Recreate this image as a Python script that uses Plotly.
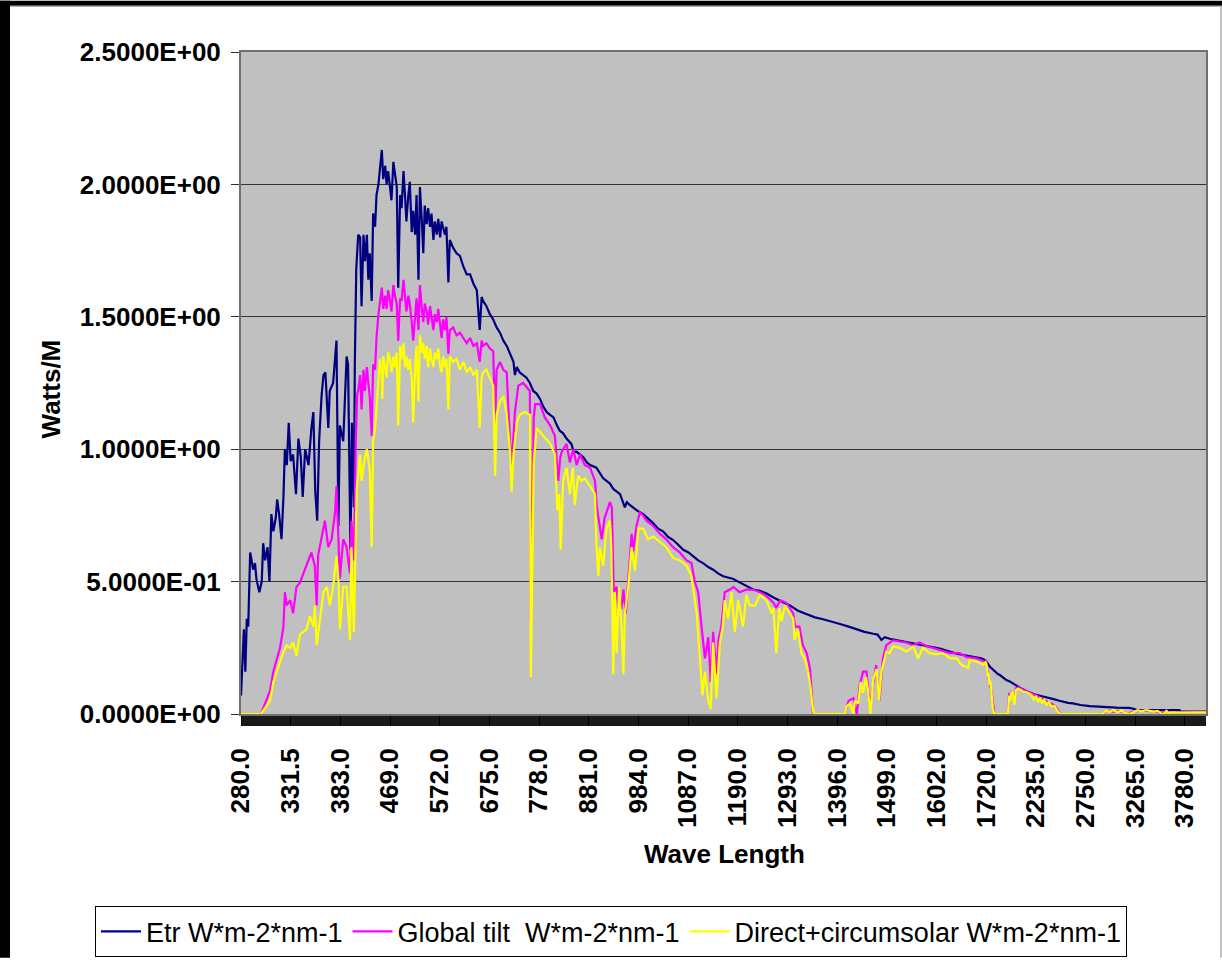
import numpy as np
import plotly.graph_objects as go

# Category axis: ASTM G173 wavelength grid (nm)
WAVELENGTHS = np.concatenate([
    np.arange(280.0, 400.0, 0.5),
    np.arange(400.0, 1700.0, 1.0),
    [1700.0, 1702.0],
    np.arange(1705.0, 4000.1, 5.0),
])

X_TICK_LABELS = ["280.0", "331.5", "383.0", "469.0", "572.0", "675.0", "778.0", "881.0",
                 "984.0", "1087.0", "1190.0", "1293.0", "1396.0", "1499.0", "1602.0",
                 "1720.0", "2235.0", "2750.0", "3265.0", "3780.0"]
Y_TICK_VALUES = [0.0, 0.5, 1.0, 1.5, 2.0, 2.5]
Y_TICK_LABELS = ["0.0000E+00", "5.0000E-01", "1.0000E+00", "1.5000E+00", "2.0000E+00", "2.5000E+00"]

SERIES_NAMES = ["Etr W*m-2*nm-1", "Global tilt\u00a0 W*m-2*nm-1", "Direct+circumsolar W*m-2*nm-1"]
SERIES_COLORS = ["#000080", "#FF00FF", "#FFFF00"]

# (wavelength nm, W*m-2*nm-1)
ETR_DATA = [
    (280, 0.07), (281.5, 0.22), (283, 0.32), (284.5, 0.16), (286, 0.36), (287.5, 0.33), (289.5, 0.61),
    (291, 0.58), (292.5, 0.545), (294.5, 0.57), (296, 0.51), (299, 0.46), (301.5, 0.5), (303, 0.645),
    (305, 0.58), (307.5, 0.63), (309.5, 0.5), (311.5, 0.755), (313.5, 0.69), (316, 0.74), (317.5, 0.81),
    (319.5, 0.755), (322, 0.66), (324, 0.82), (325.5, 1.0), (327.5, 0.94), (329.5, 1.1), (331.5, 0.955),
    (334, 0.98), (337, 0.83), (339.5, 1.04), (342, 0.97), (344, 0.82), (346.5, 1.0), (350, 0.94),
    (353, 1.08), (355, 1.14), (357, 0.84), (359, 0.73), (361, 1.03), (363.5, 1.2), (365.5, 1.28),
    (367.5, 1.29), (370.5, 1.08), (372, 1.22), (375.5, 1.25), (379, 1.41), (381, 0.71), (382.5, 1.09),
    (386, 1.03), (389.5, 1.35), (391, 1.32), (393.5, 0.62), (395, 1.1), (397, 0.78), (398, 1.32),
    (399.5, 1.68),
    (403, 1.81), (407, 1.80), (410, 1.54), (414, 1.81), (417, 1.71), (421, 1.81), (424, 1.64),
    (427, 1.74), (431, 1.56), (434, 1.89), (438, 1.84), (441, 1.96), (445, 2.0), (448, 2.07),
    (452, 2.13), (455, 2.02), (459, 2.07), (462, 2.0), (465, 2.05), (469, 1.99), (472, 1.94),
    (476, 2.085), (479, 2.05), (483, 1.99), (486, 1.61), (490, 1.96), (493, 1.91), (497, 2.05),
    (500, 1.96), (503, 1.86), (507, 1.96), (510, 2.01), (514, 1.82), (517, 1.9), (521, 1.81),
    (524, 1.96), (528, 1.64), (531, 1.99), (535, 1.86), (538, 1.74), (541, 1.92), (545, 1.85),
    (548, 1.91), (552, 1.84), (555, 1.89), (559, 1.79), (562, 1.86), (566, 1.81), (569, 1.87),
    (573, 1.80), (576, 1.86), (579, 1.84), (583, 1.81), (586, 1.84), (590, 1.63), (593, 1.79),
    (600, 1.76), (607, 1.74), (614, 1.73), (621, 1.69), (628, 1.66), (635, 1.66), (642, 1.625),
    (649, 1.60), (655, 1.45), (659, 1.575), (662, 1.56), (669, 1.54), (676, 1.51), (683, 1.49),
    (690, 1.46), (697, 1.44), (704, 1.41), (711, 1.39), (718, 1.36), (725, 1.33), (728, 1.28),
    (732, 1.31), (738, 1.29), (745, 1.28), (752, 1.27), (759, 1.25), (766, 1.22), (773, 1.21),
    (780, 1.19), (787, 1.16), (794, 1.14), (801, 1.13), (808, 1.12), (815, 1.09), (821, 1.07),
    (828, 1.06), (835, 1.04), (845, 1.02), (850, 0.99), (856, 0.99), (863, 0.98), (870, 0.97),
    (877, 0.95), (884, 0.94), (897, 0.93), (904, 0.91), (911, 0.89), (918, 0.88), (925, 0.87),
    (932, 0.85), (939, 0.84), (946, 0.83), (956, 0.78), (960, 0.80), (966, 0.79), (973, 0.78),
    (980, 0.77), (994, 0.755), (1004, 0.74), (1015, 0.72), (1025, 0.70), (1035, 0.69), (1045, 0.67),
    (1056, 0.657), (1066, 0.64), (1077, 0.62), (1088, 0.61), (1098, 0.595), (1108, 0.58), (1118, 0.57),
    (1129, 0.555), (1139, 0.545), (1150, 0.53), (1160, 0.52), (1170, 0.515), (1181, 0.51), (1191, 0.50),
    (1201, 0.49), (1212, 0.48), (1222, 0.47), (1236, 0.465), (1250, 0.455), (1264, 0.44), (1281, 0.425),
    (1298, 0.41), (1315, 0.39), (1333, 0.377), (1350, 0.365), (1367, 0.358), (1385, 0.35), (1402, 0.34),
    (1420, 0.33), (1436, 0.32), (1453, 0.31), (1471, 0.303), (1480, 0.30), (1488, 0.28), (1495, 0.29),
    (1505, 0.284), (1522, 0.278), (1540, 0.272), (1557, 0.265), (1574, 0.26), (1591, 0.253),
    (1609, 0.247), (1626, 0.238), (1644, 0.228), (1661, 0.222), (1678, 0.216), (1695, 0.21),
    (1702, 0.205),
    (1725, 0.197), (1760, 0.178), (1795, 0.165), (1830, 0.156), (1845, 0.15), (1860, 0.148),
    (1880, 0.142), (1900, 0.135), (1930, 0.128), (1965, 0.123), (2000, 0.115), (2040, 0.105),
    (2090, 0.095), (2140, 0.086), (2190, 0.078), (2240, 0.072), (2290, 0.068), (2340, 0.064),
    (2380, 0.061), (2430, 0.055), (2480, 0.05), (2530, 0.045), (2570, 0.042), (2620, 0.04),
    (2700, 0.034), (2795, 0.030), (2900, 0.027), (3000, 0.025), (3070, 0.024), (3200, 0.023),
    (3250, 0.02), (3280, 0.015), (3500, 0.015), (3725, 0.015), (3735, 0.01), (3850, 0.01), (4000, 0.009),
]

GLOBAL_DATA = [
    (280, 0.0), (300, 0.0), (301.5, 0.008), (306.5, 0.05), (310, 0.086), (313.5, 0.16), (317, 0.21),
    (320.5, 0.25), (324, 0.33), (325.5, 0.46), (327.5, 0.41), (331, 0.43), (334, 0.38), (337.5, 0.48),
    (341, 0.495), (344.5, 0.53), (349.5, 0.58), (353, 0.61), (356.5, 0.56), (358.5, 0.41), (360, 0.6),
    (363.5, 0.66), (367, 0.73), (370.5, 0.63), (374, 0.66), (377.5, 0.76), (379, 0.86), (382.5, 0.51),
    (386, 0.66), (389.5, 0.63), (393, 0.53), (394.5, 0.73), (397, 0.58), (399, 1.03),
    (401, 1.21), (403, 1.22), (407, 1.28), (410, 1.15), (414, 1.30), (417, 1.22), (421, 1.31),
    (424, 1.25), (427, 1.20), (431, 1.05), (434, 1.32), (438, 1.30), (441, 1.42), (445, 1.51),
    (448, 1.56), (452, 1.61), (455, 1.53), (459, 1.58), (462, 1.53), (465, 1.60), (469, 1.56),
    (472, 1.52), (476, 1.62), (479, 1.58), (483, 1.55), (486, 1.41), (490, 1.57), (493, 1.56),
    (497, 1.64), (500, 1.56), (503, 1.52), (507, 1.58), (510, 1.55), (514, 1.48), (517, 1.41),
    (521, 1.50), (524, 1.57), (528, 1.45), (531, 1.62), (535, 1.53), (538, 1.48), (541, 1.55),
    (545, 1.52), (548, 1.47), (552, 1.54), (555, 1.50), (559, 1.45), (562, 1.51), (566, 1.48),
    (569, 1.53), (573, 1.47), (576, 1.42), (579, 1.49), (583, 1.45), (586, 1.50), (590, 1.36),
    (593, 1.45), (600, 1.46), (607, 1.43), (614, 1.44), (621, 1.42), (628, 1.40), (635, 1.42),
    (642, 1.39), (649, 1.40), (655, 1.33), (659, 1.41), (662, 1.39), (669, 1.40), (676, 1.38),
    (683, 1.37), (687, 1.10), (690, 1.30), (697, 1.33), (704, 1.30), (711, 1.29), (718, 1.02),
    (721, 0.94), (725, 1.05), (728, 1.14), (735, 1.24), (745, 1.25), (759, 1.22), (761, 0.35),
    (764, 0.75), (767, 1.12), (770, 1.17), (780, 1.17), (790, 1.12), (801, 1.09), (811, 1.05),
    (816, 0.90), (818, 0.88), (822, 0.97), (825, 0.99), (835, 1.02), (842, 0.95), (849, 1.0),
    (856, 0.94), (863, 0.98), (873, 0.94), (884, 0.93), (894, 0.88), (898, 0.78), (904, 0.71),
    (908, 0.66), (914, 0.74), (925, 0.80), (929, 0.78), (933, 0.46), (939, 0.48), (942, 0.40),
    (949, 0.40), (953, 0.47), (958, 0.38), (963, 0.51), (970, 0.68), (973, 0.61), (980, 0.71),
    (987, 0.76), (994, 0.75), (1001, 0.73), (1015, 0.71), (1029, 0.68), (1042, 0.66), (1056, 0.63),
    (1070, 0.61), (1084, 0.58), (1094, 0.57), (1101, 0.50), (1108, 0.46), (1115, 0.33), (1122, 0.21),
    (1129, 0.29), (1134, 0.12), (1139, 0.31), (1146, 0.15), (1150, 0.28), (1156, 0.33), (1163, 0.46),
    (1174, 0.47), (1181, 0.48), (1194, 0.46), (1208, 0.47), (1222, 0.47), (1236, 0.46), (1250, 0.445),
    (1264, 0.42), (1270, 0.40), (1278, 0.43), (1291, 0.42), (1305, 0.38), (1309, 0.33), (1318, 0.33),
    (1325, 0.26), (1333, 0.23), (1340, 0.17), (1346, 0.005), (1350, 0.0), (1412, 0.0), (1420, 0.05),
    (1430, 0.06), (1437, 0.0), (1443, 0.11), (1450, 0.16), (1457, 0.16), (1464, 0.03), (1470, 0.1),
    (1477, 0.185), (1484, 0.05), (1491, 0.21), (1498, 0.26), (1512, 0.278), (1532, 0.272), (1540, 0.27),
    (1553, 0.26), (1567, 0.27), (1580, 0.258), (1595, 0.25), (1615, 0.24), (1630, 0.23), (1650, 0.23),
    (1665, 0.215), (1685, 0.21), (1700, 0.202),
    (1705, 0.198), (1725, 0.195), (1740, 0.15), (1755, 0.115), (1775, 0.09), (1790, 0.03), (1805, 0.0),
    (1945, 0.0), (1950, 0.03), (1960, 0.08), (1970, 0.07), (1985, 0.085), (2000, 0.075), (2015, 0.045),
    (2030, 0.098), (2050, 0.10), (2085, 0.095), (2100, 0.092), (2140, 0.086), (2190, 0.078),
    (2240, 0.07), (2295, 0.058), (2345, 0.048), (2380, 0.043), (2415, 0.035), (2450, 0.024),
    (2470, 0.012), (2485, 0.002), (2490, 0.0), (2930, 0.0), (2935, 0.005), (2960, 0.01), (3000, 0.012),
    (3050, 0.008), (3100, 0.012), (3150, 0.006), (3200, 0.002), (3250, 0.01), (3300, 0.012),
    (3350, 0.013), (3400, 0.012), (3450, 0.01), (3500, 0.008), (3540, 0.0), (3590, 0.012),
    (3620, 0.005), (3700, 0.006), (3800, 0.007), (3900, 0.007), (4000, 0.007),
]

DIRECT_DATA = [
    (280, 0.0), (300, 0.0), (301.5, 0.004), (306.5, 0.03), (310, 0.05), (313.5, 0.12), (317, 0.16),
    (320.5, 0.20), (324, 0.235), (327.5, 0.26), (331, 0.25), (334, 0.27), (337.5, 0.22), (341, 0.30),
    (344.5, 0.31), (348, 0.32), (351.5, 0.37), (355, 0.33), (356.5, 0.41), (358.5, 0.26), (362, 0.36),
    (365.5, 0.46), (369, 0.48), (372, 0.41), (375.5, 0.48), (379, 0.595), (381, 0.51), (382.5, 0.32),
    (386, 0.48), (389.5, 0.48), (393, 0.28), (394.5, 0.63), (397, 0.31), (399, 0.78),
    (400, 0.855), (403, 0.9), (407, 0.98), (410, 0.88), (414, 0.93), (417, 0.97), (421, 1.0),
    (424, 0.95), (427, 0.92), (431, 0.63), (434, 1.03), (438, 1.08), (441, 1.15), (445, 1.27),
    (448, 1.34), (452, 1.28), (453, 1.19), (455, 1.35), (459, 1.31), (462, 1.27), (465, 1.365),
    (469, 1.34), (472, 1.29), (476, 1.35), (479, 1.31), (483, 1.365), (486, 1.09), (490, 1.39),
    (493, 1.34), (497, 1.40), (500, 1.31), (503, 1.35), (507, 1.30), (510, 1.34), (514, 1.27),
    (517, 1.10), (521, 1.31), (524, 1.39), (528, 1.18), (531, 1.43), (535, 1.365), (538, 1.40),
    (541, 1.34), (545, 1.39), (548, 1.31), (552, 1.38), (555, 1.34), (559, 1.31), (562, 1.365),
    (566, 1.34), (569, 1.38), (573, 1.31), (576, 1.29), (579, 1.35), (583, 1.31), (586, 1.34),
    (590, 1.15), (593, 1.35), (600, 1.33), (607, 1.34), (614, 1.30), (621, 1.33), (628, 1.29),
    (635, 1.31), (642, 1.28), (649, 1.30), (655, 1.08), (659, 1.27), (662, 1.29), (669, 1.30),
    (676, 1.27), (683, 1.24), (687, 0.90), (690, 1.13), (697, 1.18), (704, 1.2), (711, 1.13),
    (718, 0.99), (721, 0.84), (725, 0.98), (732, 1.1), (738, 1.13), (749, 1.14), (759, 1.13),
    (761, 0.14), (764, 0.58), (767, 0.95), (773, 1.08), (787, 1.05), (801, 1.02), (811, 0.98),
    (816, 0.77), (820, 0.83), (823, 0.62), (828, 0.88), (835, 0.93), (842, 0.83), (848, 0.93),
    (852, 0.79), (859, 0.90), (866, 0.88), (873, 0.89), (884, 0.86), (894, 0.83), (897, 0.64),
    (901, 0.52), (904, 0.63), (911, 0.56), (918, 0.70), (925, 0.73), (928, 0.63), (932, 0.15),
    (935, 0.46), (939, 0.23), (944, 0.48), (949, 0.33), (953, 0.15), (956, 0.38), (963, 0.48),
    (970, 0.63), (977, 0.54), (984, 0.70), (994, 0.70), (1004, 0.66), (1015, 0.67), (1029, 0.65),
    (1042, 0.63), (1056, 0.59), (1070, 0.58), (1084, 0.56), (1094, 0.52), (1105, 0.38), (1112, 0.21),
    (1117, 0.07), (1122, 0.16), (1129, 0.05), (1134, 0.02), (1139, 0.27), (1146, 0.06), (1153, 0.27),
    (1159, 0.33), (1163, 0.43), (1170, 0.36), (1177, 0.46), (1184, 0.31), (1191, 0.43), (1201, 0.33),
    (1208, 0.45), (1215, 0.41), (1226, 0.41), (1236, 0.45), (1250, 0.43), (1260, 0.38), (1264, 0.40),
    (1270, 0.23), (1276, 0.40), (1281, 0.35), (1288, 0.41), (1298, 0.38), (1305, 0.36), (1308, 0.28),
    (1315, 0.32), (1322, 0.23), (1329, 0.21), (1336, 0.16), (1341, 0.10), (1345, 0.03), (1348, 0.0),
    (1412, 0.0), (1416, 0.03), (1423, 0.04), (1430, 0.0), (1433, 0.05), (1440, 0.04), (1445, 0.12),
    (1450, 0.08), (1456, 0.14), (1460, 0.09), (1465, 0.0), (1471, 0.13), (1478, 0.17), (1483, 0.05),
    (1488, 0.16), (1493, 0.2), (1498, 0.235), (1505, 0.23), (1512, 0.255), (1526, 0.25), (1540, 0.235),
    (1554, 0.255), (1564, 0.21), (1574, 0.25), (1588, 0.23), (1602, 0.225), (1616, 0.23), (1630, 0.21),
    (1644, 0.21), (1654, 0.186), (1668, 0.174), (1671, 0.205), (1685, 0.198), (1699, 0.186),
    (1705, 0.19), (1715, 0.195), (1725, 0.185), (1740, 0.14), (1745, 0.155), (1755, 0.11),
    (1765, 0.125), (1775, 0.08), (1790, 0.02), (1805, 0.0), (1945, 0.0), (1950, 0.02), (1960, 0.07),
    (1970, 0.05), (1980, 0.08), (1995, 0.082), (2015, 0.035), (2030, 0.09), (2050, 0.095),
    (2085, 0.09), (2100, 0.085), (2140, 0.082), (2190, 0.072), (2215, 0.055), (2240, 0.068),
    (2260, 0.045), (2280, 0.062), (2300, 0.04), (2320, 0.055), (2345, 0.035), (2370, 0.045),
    (2400, 0.028), (2430, 0.03), (2460, 0.012), (2485, 0.0), (2930, 0.0), (2935, 0.004), (2960, 0.012),
    (3000, 0.008), (3040, 0.015), (3080, 0.006), (3120, 0.013), (3160, 0.004), (3210, 0.0),
    (3250, 0.008), (3290, 0.014), (3330, 0.01), (3380, 0.015), (3420, 0.012), (3460, 0.009),
    (3500, 0.012), (3540, 0.0), (3560, 0.0), (3590, 0.012), (3610, 0.004), (3650, 0.006),
    (3700, 0.005), (3800, 0.006), (3900, 0.006), (4000, 0.006),
]


def category_index(wl):
    return int(np.argmin(np.abs(WAVELENGTHS - float(wl))))


FONT = "Liberation Sans, Arial, sans-serif"
W, H = 1222, 970
L, R, T, B = 241, 16, 52, 247
PW, PH = W - L - R, H - T - B


def px(xp):
    return (xp - L) / PW


def py(yp):
    return (H - B - yp) / PH


fig = go.Figure()
for name, color, data in zip(SERIES_NAMES, SERIES_COLORS, [ETR_DATA, GLOBAL_DATA, DIRECT_DATA]):
    fig.add_trace(go.Scatter(
        x=[category_index(w) for w, _ in data],
        y=[v for _, v in data],
        mode="lines",
        name=name,
        line=dict(color=color, width=2.2),
    ))

tick_positions = [category_index(float(t)) for t in X_TICK_LABELS]

fig.update_layout(
    width=W, height=H, autosize=False,
    margin=dict(l=L, r=R, t=T, b=B, pad=0),
    paper_bgcolor="white",
    plot_bgcolor="#C0C0C0",
    font=dict(family=FONT, color="black"),
    showlegend=True,
    legend=dict(
        orientation="h", x=px(95), y=py(918), xanchor="left", yanchor="top",
        bgcolor="white", bordercolor="black", borderwidth=1,
        font=dict(family=FONT, size=27, color="black"),
        itemwidth=40,
    ),
    xaxis=dict(
        range=[0, len(WAVELENGTHS) - 1],
        tickmode="array", tickvals=tick_positions, ticktext=X_TICK_LABELS,
        tickangle=-90,
        tickfont=dict(family=FONT, size=26, color="black", weight="bold"),
        ticks="outside", ticklen=10, tickcolor="black", tickwidth=1,
        ticklabelstandoff=12,
        showgrid=False, zeroline=False,
        showline=True, linecolor="#707070", linewidth=2, mirror=True,
        minor=dict(tickmode="linear", tick0=0, dtick=2.05, ticks="outside", ticklen=10,
                   tickcolor="#1a1a1a", tickwidth=1, showgrid=False),
    ),
    yaxis=dict(
        range=[0, 2.5],
        tickmode="array", tickvals=Y_TICK_VALUES, ticktext=Y_TICK_LABELS,
        tickfont=dict(family=FONT, size=26, color="black", weight="bold"),
        ticks="outside", ticklen=8, tickcolor="#333333", tickwidth=1,
        ticklabelstandoff=5,
        showgrid=True, gridcolor="#333333", gridwidth=1,
        zeroline=False,
        showline=True, linecolor="#707070", linewidth=2, mirror=True,
    ),
    annotations=[
        dict(text="Wave Length", xref="paper", yref="paper", x=px(724), y=py(865),
             xanchor="center", yanchor="middle", showarrow=False,
             font=dict(family=FONT, size=26, color="black", weight="bold")),
        dict(text="Watts/M", xref="paper", yref="paper", x=px(51), y=py(394),
             xanchor="center", yanchor="middle", showarrow=False, textangle=-90,
             font=dict(family=FONT, size=26, color="black", weight="bold")),
    ],
    shapes=[
        dict(type="rect", xref="paper", yref="paper", x0=px(0), x1=px(10), y0=py(H), y1=py(0),
             fillcolor="black", line=dict(width=0), layer="above"),
        dict(type="rect", xref="paper", yref="paper", x0=px(0), x1=px(W), y0=py(5), y1=py(0),
             fillcolor="black", line=dict(width=0), layer="above"),
        dict(type="line", xref="paper", yref="paper", x0=px(1221), x1=px(1221), y0=py(H), y1=py(5),
             line=dict(color="#808080", width=1), layer="above"),
        dict(type="line", xref="paper", yref="paper", x0=px(10), x1=px(1221), y0=py(5.5), y1=py(5.5),
             line=dict(color="#808080", width=1), layer="above"),
    ],
)

POST = ("document.documentElement.style.margin='0';document.body.style.margin='0';"
        "document.body.style.overflow='hidden';document.documentElement.style.overflow='hidden';"
        "var d=document.getElementById('{plot_id}');d.style.position='fixed';"
        "d.style.left='0px';d.style.top='0px';")

fig.write_html("out.html", config={"displayModeBar": False}, post_script=POST)
